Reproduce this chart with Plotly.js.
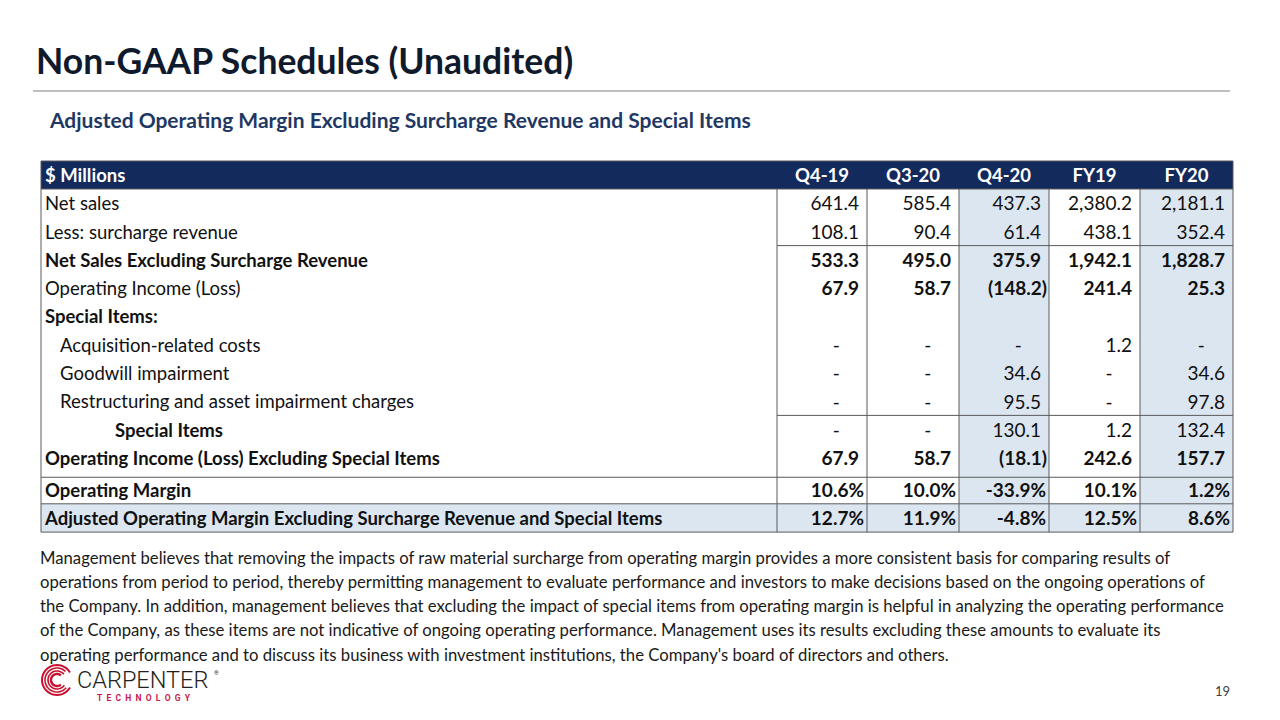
<!DOCTYPE html>
<html><head><meta charset="utf-8">
<script src="https://cdn.plot.ly/plotly-3.0.1.min.js"></script>
<style>html,body{margin:0;padding:0;background:#fff;}#chart{width:1280px;height:720px;}</style>
</head><body><div id="chart"></div>
<script>
// ---------- DATA ----------
const columns = ['Q4-19', 'Q3-20', 'Q4-20', 'FY19', 'FY20'];
const headerLabel = '$ Millions';
const rowLabels = [
  'Net sales',
  'Less: surcharge revenue',
  'Net Sales Excluding Surcharge Revenue',
  'Operating Income (Loss)',
  'Special Items:',
  'Acquisition-related costs',
  'Goodwill impairment',
  'Restructuring and asset impairment charges',
  'Special Items',
  'Operating Income (Loss) Excluding Special Items',
  'Operating Margin',
  'Adjusted Operating Margin Excluding Surcharge Revenue and Special Items'
];
const netSales            = [641.4, 585.4, 437.3, 2380.2, 2181.1];
const surchargeRevenue    = [108.1, 90.4, 61.4, 438.1, 352.4];
const netSalesExSurcharge = [533.3, 495.0, 375.9, 1942.1, 1828.7];
const operatingIncome     = [67.9, 58.7, -148.2, 241.4, 25.3];
const acquisitionCosts    = [0, 0, 0, 1.2, 0];
const goodwillImpairment  = [0, 0, 34.6, 0, 34.6];
const restructuring       = [0, 0, 95.5, 0, 97.8];
const specialItemsTotal   = [0, 0, 130.1, 1.2, 132.4];
const opIncomeExSpecial   = [67.9, 58.7, -18.1, 242.6, 157.7];
const operatingMarginPct  = [10.6, 10.0, -33.9, 10.1, 1.2];
const adjustedMarginPct   = [12.7, 11.9, -4.8, 12.5, 8.6];
const rowValues = [netSales, surchargeRevenue, netSalesExSurcharge, operatingIncome, null,
  acquisitionCosts, goodwillImpairment, restructuring, specialItemsTotal, opIncomeExSpecial,
  operatingMarginPct, adjustedMarginPct];

const paragraphLines = [
  'Management believes that removing the impacts of raw material surcharge from operating margin provides a more consistent basis for comparing results of',
  'operations from period to period, thereby permitting management to evaluate performance and investors to make decisions based on the ongoing operations of',
  'the Company. In addition, management believes that excluding the impact of special items from operating margin is helpful in analyzing the operating performance',
  'of the Company, as these items are not indicative of ongoing operating performance. Management uses its results excluding these amounts to evaluate its',
  "operating performance and to discuss its business with investment institutions, the Company's board of directors and others."
];

// ---------- STYLE / LAYOUT ----------
const FONT = 'Lato, Calibri, "Open Sans", sans-serif';
const NAVY = '#132a5c', LIGHT = '#dce6f1', BORDER = '#5a5a5a', TXT = '#111111';
const LABEL_SIZE = 18.5, NUM_SIZE = 19, TEXT_DY = 2.5;
const tableLeft = 41;
const colEdges = [777, 867, 959, 1049, 1140, 1233];
const headerTop = 161, headerBottom = 189, rowH = 28.3, gap = 3.5;
const rowStyle = [
  {lb:false, vb:false, ind:4,  fmt:'num'},
  {lb:false, vb:false, ind:4,  fmt:'num'},
  {lb:true,  vb:true,  ind:4,  fmt:'num'},
  {lb:false, vb:true,  ind:4,  fmt:'num'},
  {lb:true,  vb:false, ind:4,  fmt:'none'},
  {lb:false, vb:false, ind:19, fmt:'num'},
  {lb:false, vb:false, ind:19, fmt:'num'},
  {lb:false, vb:false, ind:19, fmt:'num'},
  {lb:true,  vb:false, ind:74, fmt:'num'},
  {lb:true,  vb:true,  ind:4,  fmt:'num'},
  {lb:true,  vb:true,  ind:4,  fmt:'pct'},
  {lb:true,  vb:true,  ind:4,  fmt:'pct'}
];
function rowTop(i){ return headerBottom + rowH*i + (i >= 10 ? gap : 0); }
function rowMid(i){ return rowTop(i) + rowH/2 + TEXT_DY; }
const tableBottom = rowTop(rowLabels.length);

function fmtNum(v){
  if (v === 0) return '-';
  const s = Math.abs(v).toLocaleString('en-US', {minimumFractionDigits:1, maximumFractionDigits:1});
  return v < 0 ? '(' + s + ')' : s;
}
function fmtPct(v){ return v.toFixed(1) + '%'; }
const B = (s, b) => b ? '<b>' + s + '</b>' : s;

const traces = [];
const headerMid = (headerTop+headerBottom)/2 + TEXT_DY;
traces.push({type:'scatter', mode:'text', hoverinfo:'skip', showlegend:false,
  x:[tableLeft+4], y:[headerMid], text:[B(headerLabel,true)],
  textposition:'middle right', textfont:{family:FONT, size:LABEL_SIZE, color:'#ffffff'}});
traces.push({type:'scatter', mode:'text', hoverinfo:'skip', showlegend:false,
  x:columns.map((c,j)=>(colEdges[j]+colEdges[j+1])/2), y:columns.map(()=>headerMid),
  text:columns.map(c=>B(c,true)), textposition:'middle center',
  textfont:{family:FONT, size:LABEL_SIZE, color:'#ffffff'}});
traces.push({type:'scatter', mode:'text', hoverinfo:'skip', showlegend:false,
  x:rowLabels.map((l,i)=>tableLeft+rowStyle[i].ind), y:rowLabels.map((l,i)=>rowMid(i)),
  text:rowLabels.map((l,i)=>B(l,rowStyle[i].lb)), textposition:'middle right',
  textfont:{family:FONT, size:LABEL_SIZE, color:TXT}});
rowValues.forEach((vals,i)=>{
  if (!vals) return;
  const st = rowStyle[i];
  const xs=[], ys=[], ts=[], ps=[];
  vals.forEach((v,j)=>{
    const L = colEdges[j], R = colEdges[j+1];
    const t = st.fmt === 'pct' ? fmtPct(v) : fmtNum(v);
    if (t === '-') { xs.push(L + 0.66*(R-L)); ps.push('middle center'); }
    else if (st.fmt === 'pct') { xs.push(R - 3); ps.push('middle left'); }
    else if (t[0] === '(') { xs.push(R - 2); ps.push('middle left'); }
    else { xs.push(R - 8); ps.push('middle left'); }
    ys.push(rowMid(i)); ts.push(B(t, st.vb));
  });
  traces.push({type:'scatter', mode:'text', hoverinfo:'skip', showlegend:false,
    x:xs, y:ys, text:ts, textposition:ps, textfont:{family:FONT, size:NUM_SIZE, color:TXT}});
});

// ---------- SHAPES ----------
const shapes = [];
const rect = (x0,x1,y0,y1,fill)=>shapes.push({type:'rect', xref:'x', yref:'y', x0, x1, y0, y1,
  fillcolor:fill, line:{width:0}, layer:'below'});
const hline = (x0,x1,y)=>shapes.push({type:'line', xref:'x', yref:'y', x0, x1, y0:y, y1:y,
  line:{color:BORDER, width:1}, layer:'above'});
const vline = (x,y0,y1)=>shapes.push({type:'line', xref:'x', yref:'y', x0:x, x1:x, y0, y1,
  line:{color:BORDER, width:1}, layer:'above'});
const R = colEdges[colEdges.length-1];
rect(tableLeft, R, headerTop, headerBottom, NAVY);
[2,4].forEach(j=>rect(colEdges[j], colEdges[j+1], headerBottom, tableBottom, LIGHT));
rect(tableLeft, R, rowTop(11), tableBottom, LIGHT);
hline(tableLeft, R, headerTop);
hline(tableLeft, R, headerBottom);
vline(tableLeft, headerTop, tableBottom);
vline(R, headerTop, tableBottom);
colEdges.slice(0,-1).forEach(x=>vline(x, headerBottom, tableBottom));
hline(colEdges[0], R, rowTop(2));
hline(colEdges[0], R, rowTop(8));
hline(tableLeft, R, rowTop(10) + gap/2);
hline(tableLeft, R, rowTop(11));
hline(tableLeft, R, tableBottom);
shapes.push({type:'line', xref:'x', yref:'y', x0:33, x1:1230, y0:91, y1:91, line:{color:'#808080', width:1}});

function arcPath(cx, cy, r, a0, a1){
  let p = '';
  const n = 40;
  for (let k=0;k<=n;k++){
    const a = (a0 + (a1-a0)*k/n) * Math.PI/180;
    const x = cx + r*Math.cos(a), y = cy - r*Math.sin(a);
    p += (k===0 ? 'M ' : ' L ') + x.toFixed(2) + ' ' + y.toFixed(2);
  }
  return p;
}
const logoCx = 57, logoCy = 680;
[[15,30,330,2],[12,45,320,1.6],[9,40,325,1.6],[6,50,310,2.4]].forEach(a=>{
  shapes.push({type:'path', xref:'x', yref:'y', path:arcPath(logoCx, logoCy, a[0], a[1], a[2]),
    line:{color:'#c8102e', width:a[3]}});
});

// ---------- ANNOTATIONS ----------
const annotations = [];
annotations.push({xref:'x', yref:'y', x:47, y:119, xanchor:'left', yanchor:'middle', showarrow:false,
  text:'<b>Adjusted Operating Margin Excluding Surcharge Revenue and Special Items</b>',
  font:{family:FONT, size:21, color:'#1f3864'}});
paragraphLines.forEach((t,k)=>annotations.push({xref:'x', yref:'y', x:38, y:557.5 + 24.3*k,
  xanchor:'left', yanchor:'middle', showarrow:false, text:t, font:{family:FONT, size:16.7, color:'#1a1a1a'}}));
annotations.push({xref:'x', yref:'y', x:1222, y:691, xanchor:'center', yanchor:'middle', showarrow:false,
  text:'19', font:{family:FONT, size:13, color:'#404040'}});
annotations.push({xref:'x', yref:'y', x:75, y:680, xanchor:'left', yanchor:'middle', showarrow:false,
  text:'CARPENTER', font:{family:'Roboto, "Open Sans", sans-serif', size:23.5, color:'#231f20', weight:300}});
annotations.push({xref:'x', yref:'y', x:212, y:672, xanchor:'left', yanchor:'middle', showarrow:false,
  text:'®', font:{family:'Roboto, sans-serif', size:6, color:'#231f20'}});
const NB = '\u00a0\u00a0';
annotations.push({xref:'x', yref:'y', x:144, y:698, xanchor:'center', yanchor:'middle', showarrow:false,
  text:'<b>' + 'TECHNOLOGY'.split('').join(NB) + '</b>',
  font:{family:'Roboto, sans-serif', size:8.5, color:'#c8174f'}});

const layout = {
  width:1280, height:720, margin:{l:0,r:0,t:0,b:0},
  paper_bgcolor:'#ffffff', plot_bgcolor:'#ffffff', showlegend:false,
  title:{text:'<b>Non-GAAP Schedules (Unaudited)</b>', x:36/1280, xanchor:'left', xref:'paper',
    y:1-62/720, yanchor:'middle', yref:'paper', font:{family:FONT, size:35.5, color:'#0f1a2c'}},
  xaxis:{range:[0,1280], visible:false, fixedrange:true},
  yaxis:{range:[720,0], visible:false, fixedrange:true},
  shapes, annotations
};
Plotly.newPlot('chart', traces, layout, {displayModeBar:false, staticPlot:true});
</script></body></html>
